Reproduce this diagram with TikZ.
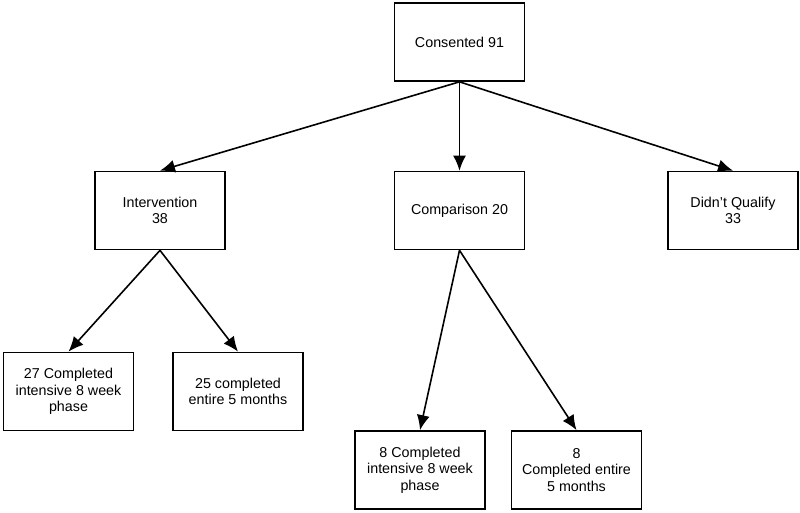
\documentclass[tikz,border=0pt]{standalone}
\usepackage{fontspec}
\setmainfont{Liberation Sans}
\usetikzlibrary{arrows.meta}
\tikzset{>={Latex[length=15pt,width=13pt]}}
\tikzset{box/.style={draw,line width=1.7pt,minimum width=130pt,minimum height=78pt,align=center,inner sep=2pt,font=\fontsize{14.3}{16.7}\selectfont}}

\begin{document}
\begin{tikzpicture}[x=1pt,y=-1pt]
\useasboundingbox (0,0) rectangle (800,513);
\node[box] (cons) at (459.5,42) {Consented 91};
\node[box] (int) at (160,210.5) {Intervention\\38};
\node[box] (comp) at (459.5,210.5) {Comparison 20};
\node[box] (dq) at (733,210.5) {Didn't Qualify\\33};
\node[box] (intA) at (68.5,391.5) {27 Completed\\intensive 8 week\\phase};
\node[box] (intB) at (238,391.5) {25 completed\\entire 5 months};
\node[box] (compA) at (420,470) {8 Completed\\intensive 8 week\\phase};
\node[box] (compB) at (576.5,470) {8\\Completed entire\\5 months};
\draw[->,line width=1.6pt] (cons.south) -- (int.north);
\draw[->,line width=1.6pt] (cons.south) -- (comp.north);
\draw[->,line width=1.6pt] (cons.south) -- (dq.north);
\draw[->,line width=1.6pt] (int.south) -- (intA.north);
\draw[->,line width=1.6pt] (int.south) -- (intB.north);
\draw[->,line width=1.6pt] (comp.south) -- (compA.north);
\draw[->,line width=1.6pt] (comp.south) -- (compB.north);
\end{tikzpicture}
\end{document}
